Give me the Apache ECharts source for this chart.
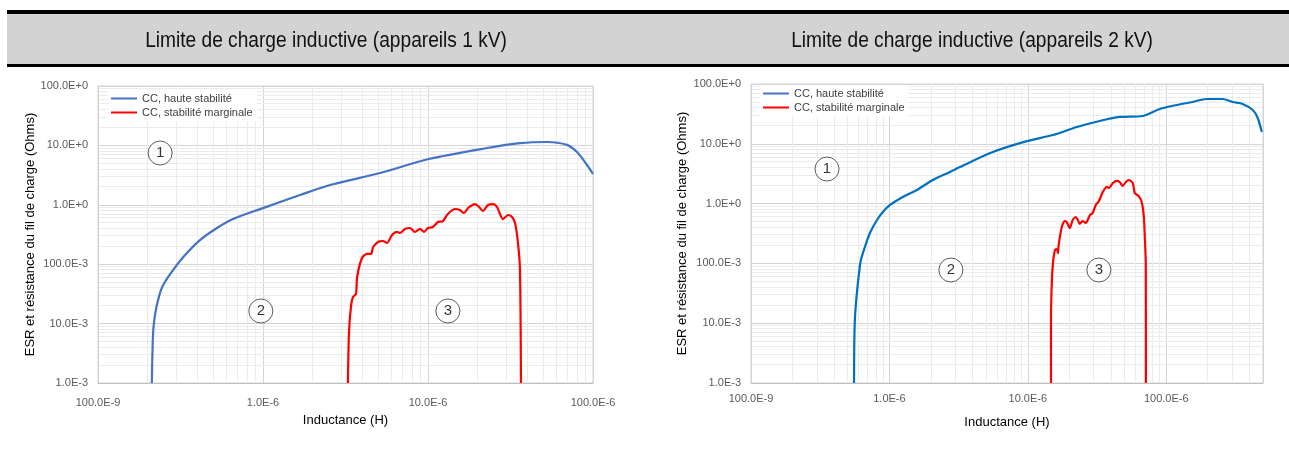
<!DOCTYPE html>
<html><head><meta charset="utf-8">
<script src="https://cdn.jsdelivr.net/npm/echarts@6/dist/echarts.min.js"></script>
<style>html,body{margin:0;padding:0;background:#fff}#c{width:1289px;height:449px}</style>
</head><body><div id="c"></div>
<script>
// ---------- data ----------
const seriesNames = ['CC, haute stabilité', 'CC, stabilité marginale'];
const panelTitles = ['Limite de charge inductive (appareils 1 kV)', 'Limite de charge inductive (appareils 2 kV)'];
const xAxisTitle = 'Inductance (H)';
const yAxisTitle = 'ESR et résistance du fil de charge (Ohms)';
const xTickValues = [1e-7, 1e-6, 1e-5, 1e-4];
const xTickLabels = ['100.0E-9', '1.0E-6', '10.0E-6', '100.0E-6'];
const yTickValues = [1e-3, 1e-2, 1e-1, 1, 10, 100];
const yTickLabels = ['1.0E-3', '10.0E-3', '100.0E-3', '1.0E+0', '10.0E+0', '100.0E+0'];
const xMin = 1e-7;
const xMax1kV = 1e-4;
const xMax2kV = 5e-4;
const yMin = 1e-3;
const yMax = 100;

const blue1kV = [
  [2.12e-7, 0.001], [2.14e-7, 0.0036], [2.17e-7, 0.00877], [2.26e-7, 0.019], [2.45e-7, 0.0413],
  [2.85e-7, 0.0798], [3.37e-7, 0.143], [4.15e-7, 0.255], [5.26e-7, 0.407], [6.58e-7, 0.577],
  [1.0e-6, 0.88], [1.675e-6, 1.46], [2.55e-6, 2.15], [5.12e-6, 3.43], [1.01e-5, 5.9],
  [2.28e-5, 9.04], [3.61e-5, 10.9], [5.26e-5, 11.4], [6.95e-5, 10.2], [8.0e-5, 7.74],
  [9.2e-5, 4.68], [1.0e-4, 3.3]
];
const red1kV = [
  [3.27e-6, 0.001], [3.32e-6, 0.00695], [3.41e-6, 0.019], [3.51e-6, 0.0281], [3.66e-6, 0.0315],
  [3.72e-6, 0.061], [3.98e-6, 0.127], [4.27e-6, 0.149], [4.52e-6, 0.149], [4.65e-6, 0.195],
  [4.98e-6, 0.237], [5.33e-6, 0.246], [5.65e-6, 0.228], [6.05e-6, 0.31], [6.49e-6, 0.349],
  [6.76e-6, 0.335], [7.26e-6, 0.392], [7.78e-6, 0.407], [8.34e-6, 0.349], [8.95e-6, 0.392],
  [9.46e-6, 0.349], [1.0e-5, 0.407], [1.07e-5, 0.423], [1.15e-5, 0.513], [1.23e-5, 0.533],
  [1.32e-5, 0.7], [1.46e-5, 0.849], [1.56e-5, 0.817], [1.65e-5, 0.727], [1.75e-5, 0.883],
  [1.93e-5, 1.03], [2.04e-5, 0.918], [2.15e-5, 0.787], [2.31e-5, 0.993], [2.48e-5, 1.03],
  [2.62e-5, 0.918], [2.85e-5, 0.576], [3.06e-5, 0.673], [3.23e-5, 0.623], [3.37e-5, 0.494],
  [3.51e-5, 0.228], [3.61e-5, 0.08], [3.66e-5, 0.001]
];
const blue2kV = [
  [5.55e-7, 0.001], [5.57e-7, 0.004], [5.64e-7, 0.0127], [5.82e-7, 0.032], [6.03e-7, 0.069],
  [6.22e-7, 0.114], [6.65e-7, 0.188], [7.23e-7, 0.322], [8.13e-7, 0.532], [8.97e-7, 0.724],
  [1.01e-6, 0.948], [1.25e-6, 1.29], [1.58e-6, 1.69], [2.06e-6, 2.48], [2.74e-6, 3.38],
  [3.23e-6, 4.09], [5.58e-6, 7.29], [9.84e-6, 11.1], [1.52e-5, 14.0], [2.26e-5, 19.1],
  [3.31e-5, 24.1], [4.61e-5, 28.1], [6.76e-5, 29.2], [8.97e-5, 38.2], [1.19e-4, 44.6],
  [1.55e-4, 50.0], [1.96e-4, 56.1], [2.56e-4, 56.1], [3.02e-4, 50.0], [3.56e-4, 46.4],
  [4.22e-4, 36.7], [4.58e-4, 27.0], [4.9e-4, 15.7]
];
const red2kV = [
  [1.47e-5, 0.001], [1.47e-5, 0.0127], [1.49e-5, 0.047], [1.52e-5, 0.102], [1.57e-5, 0.168],
  [1.62e-5, 0.174], [1.65e-5, 0.149], [1.67e-5, 0.203], [1.76e-5, 0.406], [1.85e-5, 0.512],
  [1.91e-5, 0.492], [2.01e-5, 0.391], [2.11e-5, 0.532], [2.22e-5, 0.597], [2.30e-5, 0.532],
  [2.37e-5, 0.456], [2.49e-5, 0.512], [2.62e-5, 0.474], [2.81e-5, 0.644], [2.94e-5, 0.697],
  [3.10e-5, 0.948], [3.26e-5, 1.10], [3.48e-5, 1.56], [3.72e-5, 1.90], [3.85e-5, 1.82],
  [4.11e-5, 2.21], [4.40e-5, 2.39], [4.61e-5, 2.30], [4.85e-5, 1.97], [5.11e-5, 2.30],
  [5.36e-5, 2.48], [5.73e-5, 2.21], [5.93e-5, 1.50], [6.32e-5, 1.34], [6.65e-5, 1.06],
  [6.89e-5, 0.597], [7.00e-5, 0.276], [7.11e-5, 0.114], [7.12e-5, 0.069], [7.13e-5, 0.001]
];
const markerText = ['1', '2', '3'];
const markerPos1kV = [[2.38e-7, 7.45], [0.97e-6, 0.0163], [1.32e-5, 0.0163]];
const markerPos2kV = [[3.54e-7, 3.79], [2.78e-6, 0.0776], [3.26e-5, 0.0776]];

// ---------- chart ----------
const FONT = '"Liberation Sans", Arial, sans-serif';
const grids = [
  { left: 98, top: 86, width: 495, height: 297 },
  { left: 751, top: 84, width: 512, height: 299 }
];
const blueColors = ['#4472C4', '#0070C0'];
const redColor = '#FF0000';
const minorColor = '#ebebeb';

function lookup(v, vals, labels) {
  for (let i = 0; i < vals.length; i++) {
    if (Math.abs(Math.log10(v) - Math.log10(vals[i])) < 1e-6) return labels[i];
  }
  return '';
}
function minorValues(lo, hi) {
  const out = [];
  for (let e = Math.floor(Math.log10(lo) + 1e-9); e < Math.ceil(Math.log10(hi) - 1e-9); e++) {
    for (let k = 2; k <= 9; k++) {
      const v = k * Math.pow(10, e);
      if (v > lo * 1.0001 && v < hi * 0.9999) out.push(v);
    }
  }
  return out;
}
const crisp = v => Math.round(v - 0.5) + 0.5;

const xMaxes = [xMax1kV, xMax2kV];
const xAxes = [], yAxes = [], series = [];
const panels = [
  { blue: blue1kV, red: red1kV, markers: markerPos1kV },
  { blue: blue2kV, red: red2kV, markers: markerPos2kV }
];
panels.forEach((p, i) => {
  const xMax = xMaxes[i];
  xAxes.push({
    type: 'log', logBase: 10, gridIndex: i, min: xMin, max: xMax,
    name: xAxisTitle, nameLocation: 'middle', nameGap: i === 0 ? 31 : 33,
    nameTextStyle: { fontSize: 13, color: '#000', fontFamily: FONT },
    axisLabel: { formatter: v => lookup(v, xTickValues, xTickLabels), color: '#595959', fontSize: 11, fontFamily: FONT, margin: i === 0 ? 14 : 10 },
    axisTick: { show: false },
    axisLine: { show: true, lineStyle: { color: '#bfbfbf', width: 1 } },
    splitLine: { show: true, lineStyle: { color: '#d4d4d4', width: 1 } }
  });
  yAxes.push({
    type: 'log', logBase: 10, gridIndex: i, min: yMin, max: yMax,
    name: yAxisTitle, nameLocation: 'middle', nameGap: i === 0 ? 61 : 62, nameRotate: 90,
    nameTextStyle: { fontSize: 13, color: '#000', fontFamily: FONT },
    axisLabel: { formatter: v => lookup(v, yTickValues, yTickLabels), color: '#595959', fontSize: 11, fontFamily: FONT, margin: 10 },
    axisTick: { show: false },
    axisLine: { show: true, lineStyle: { color: '#d4d4d4', width: 1 } },
    splitLine: { show: true, lineStyle: { color: '#d4d4d4', width: 1 } }
  });
  series.push({
    type: 'custom', name: 'minorX' + i, xAxisIndex: i, yAxisIndex: i, z: 0, silent: true, animation: false,
    data: minorValues(xMin, xMax).map(v => [v, 1]),
    renderItem: (params, api) => {
      const a = api.coord([api.value(0), yMin]);
      const b = api.coord([api.value(0), yMax]);
      const x = crisp(a[0]);
      return { type: 'line', shape: { x1: x, y1: a[1], x2: x, y2: b[1] }, style: { stroke: minorColor, lineWidth: 1 } };
    }
  });
  series.push({
    type: 'custom', name: 'minorY' + i, xAxisIndex: i, yAxisIndex: i, z: 0, silent: true, animation: false,
    data: minorValues(yMin, yMax).map(v => [1e-6, v]),
    renderItem: (params, api) => {
      const a = api.coord([xMin, api.value(1)]);
      const b = api.coord([xMax, api.value(1)]);
      const y = crisp(a[1]);
      return { type: 'line', shape: { x1: a[0], y1: y, x2: b[0], y2: y }, style: { stroke: minorColor, lineWidth: 1 } };
    }
  });
  series.push({
    type: 'line', name: seriesNames[0], xAxisIndex: i, yAxisIndex: i, data: p.blue,
    showSymbol: false, smooth: 0.3, z: 3, clip: true, animation: false,
    lineStyle: { color: blueColors[i], width: 2.2 }, itemStyle: { color: blueColors[i] }
  });
  series.push({
    type: 'line', name: seriesNames[1], xAxisIndex: i, yAxisIndex: i, data: p.red,
    showSymbol: false, smooth: 0.25, z: 3, clip: true, animation: false,
    lineStyle: { color: redColor, width: 2.2 }, itemStyle: { color: redColor }
  });
  series.push({
    type: 'scatter', name: 'markers' + i, xAxisIndex: i, yAxisIndex: i,
    data: p.markers.map((m, j) => ({ value: m, name: markerText[j] })),
    symbol: 'circle', symbolSize: 24, z: 4, silent: true, animation: false,
    itemStyle: { color: '#fff', borderColor: '#333', borderWidth: 1 },
    label: { show: true, position: 'inside', formatter: d => d.name, fontSize: 15, color: '#000', fontFamily: FONT }
  });
});

const chart = echarts.init(document.getElementById('c'), null, { renderer: 'canvas' });
chart.setOption({
  backgroundColor: '#fff',
  animation: false,
  grid: grids.map(g => Object.assign({ show: true, borderColor: '#d4d4d4', borderWidth: 1, backgroundColor: 'transparent' }, g)),
  xAxis: xAxes,
  yAxis: yAxes,
  legend: [
    { data: seriesNames, orient: 'vertical', left: 108, top: 90, icon: 'rect', itemWidth: 26, itemHeight: 2, itemGap: 1,
      backgroundColor: '#fff', padding: [2, 4, 2, 3], selectedMode: false, z: 10,
      textStyle: { fontSize: 11, color: '#404040', fontFamily: FONT, lineHeight: 13 } },
    { data: seriesNames, orient: 'vertical', left: 760, top: 85, icon: 'rect', itemWidth: 26, itemHeight: 2, itemGap: 1,
      backgroundColor: '#fff', padding: [2, 4, 2, 3], selectedMode: false, z: 10,
      textStyle: { fontSize: 11, color: '#404040', fontFamily: FONT, lineHeight: 13 } }
  ],
  graphic: [
    { type: 'rect', left: 7, top: 10, z: 10, shape: { width: 1282, height: 4 }, style: { fill: '#000' } },
    { type: 'rect', left: 7, top: 14, z: 10, shape: { width: 1282, height: 50 }, style: { fill: '#d3d3d3' } },
    { type: 'rect', left: 7, top: 64, z: 10, shape: { width: 1282, height: 3 }, style: { fill: '#000' } },
    { type: 'text', x: 326, y: 41, scaleX: 0.87, z: 11, style: { text: panelTitles[0], fill: '#111', font: '22px ' + FONT, textAlign: 'center', textVerticalAlign: 'middle' } },
    { type: 'text', x: 972, y: 41, scaleX: 0.87, z: 11, style: { text: panelTitles[1], fill: '#111', font: '22px ' + FONT, textAlign: 'center', textVerticalAlign: 'middle' } }
  ],
  series: series
});
</script>
</body></html>
